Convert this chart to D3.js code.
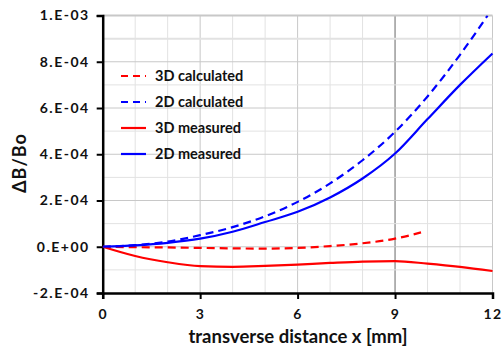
<!DOCTYPE html>
<html><head><meta charset="utf-8">
<script src="https://cdn.jsdelivr.net/npm/d3@7"></script>
<style>body{margin:0;background:#fff}svg{display:block}text{font-family:Lato,"Open Sans",sans-serif;font-weight:bold;fill:#111}</style>
</head><body><svg id="c" width="502" height="350"></svg>
<script>
// values in units of 1e-4 (ΔB/Bo)
const calc2D_x = [0,1,2,3,4,5,6,7,8,9,10,11,11.85];
const calc2D_y = [0,0.07,0.22,0.5,0.85,1.32,1.94,2.74,3.74,4.97,6.5,8.3,10.0];
const meas2D_x = [0,1,2,3,4,5,6,7,8,9,10,11,12];
const meas2D_y = [0,0.06,0.17,0.35,0.65,1.07,1.51,2.13,2.95,4.03,5.52,7.0,8.36];
const calc3D_x = [0,1,2,3,4,5,6,7,8,9,9.8];
const calc3D_y = [0,-0.02,-0.03,-0.05,-0.07,-0.08,-0.05,0.03,0.15,0.35,0.62];
const meas3D_x = [0,1,2,3,4,5,6,7,8,9,10,11,12];
const meas3D_y = [0,-0.4,-0.67,-0.84,-0.87,-0.83,-0.77,-0.7,-0.64,-0.62,-0.73,-0.87,-1.05];
const xTicks = [0,3,6,9,12];
const yTicks = [-2,0,2,4,6,8,10];
const yTickLabels = ["-2.E-04","0.E+00","2.E-04","4.E-04","6.E-04","8.E-04","1.E-03"];
const seriesNames = ["3D calculated","2D calculated","3D measured","2D measured"];

const svg = d3.select("#c");
const x = d3.scaleLinear().domain([0,12]).range([102.7,492.5]);
const y = d3.scaleLinear().domain([-2,10]).range([293,15.5]);

// grid
const g = svg.append("g");
d3.range(1,13).forEach(v=>{
  g.append("line").attr("x1",x(v)).attr("x2",x(v)).attr("y1",y(10)).attr("y2",y(-2))
   .attr("stroke", v===9 ? "#808080" : (v%3===0 ? "#c8c8c8" : "#e2e2e2")).attr("stroke-width", v===9?1.2:1);
});
d3.range(-1,11).forEach(v=>{
  g.append("line").attr("x1",x(0)).attr("x2",x(12)).attr("y1",y(v)).attr("y2",y(v))
   .attr("stroke", v%2===0 ? "#c8c8c8" : "#e2e2e2").attr("stroke-width", (v===10||v===9)?2:1);
});

// axes
const ax = svg.append("g").attr("transform",`translate(0,${y(-2)})`)
  .call(d3.axisBottom(x).tickValues(xTicks).tickSize(6).tickPadding(10).tickFormat(d3.format("d")));
const ay = svg.append("g").attr("transform",`translate(${x(0)},0)`)
  .call(d3.axisLeft(y).tickValues(yTicks).tickSize(6).tickPadding(7).tickFormat((d,i)=>yTickLabels[i]));
[ax,ay].forEach(a=>{
  a.select(".domain").attr("stroke","#000").attr("stroke-width",2.5);
  a.selectAll(".tick line").attr("stroke","#000").attr("stroke-width",2);
  a.selectAll("text").attr("font-size",14).attr("fill","#111").attr("letter-spacing","1.5px")
   .style("font-family","Lato,'Open Sans',sans-serif").style("font-weight","bold");
});

// lines
const line = d3.line().x(d=>x(d[0])).y(d=>y(d[1])).curve(d3.curveMonotoneX);
const zip = (a,b)=>a.map((v,i)=>[v,b[i]]);
const series = [
  {d:zip(calc3D_x,calc3D_y), c:"#ff0000", dash:"8,5"},
  {d:zip(calc2D_x,calc2D_y), c:"#0000ff", dash:"8,5"},
  {d:zip(meas3D_x,meas3D_y), c:"#ff0000", dash:null},
  {d:zip(meas2D_x,meas2D_y), c:"#0000ff", dash:null}
];
svg.append("clipPath").attr("id","cp").append("rect")
  .attr("x",x(0)).attr("y",y(10)).attr("width",x(12)-x(0)+2).attr("height",y(-2)-y(10));
series.forEach(s=>{
  svg.append("path").attr("d",line(s.d)).attr("fill","none").attr("stroke",s.c)
    .attr("stroke-width",2.2).attr("stroke-dasharray",s.dash).attr("clip-path","url(#cp)");
});

// legend
const ly = [76,102,128,154];
series.forEach((s,i)=>{
  svg.append("line").attr("x1",121).attr("x2",146).attr("y1",ly[i]).attr("y2",ly[i])
    .attr("stroke",s.c).attr("stroke-width",2.2).attr("stroke-dasharray",s.dash?"7,5":null);
  svg.append("text").attr("x",155).attr("y",ly[i]).attr("dy","0.35em").attr("font-size",14.5).text(seriesNames[i]);
});

// axis titles
svg.append("text").attr("x",298).attr("y",343).attr("text-anchor","middle").attr("font-size",18.5).text("transverse distance x [mm]");
svg.append("text").attr("transform","translate(26,163) rotate(-90)").attr("text-anchor","middle").attr("font-size",18).attr("letter-spacing","1px").text("ΔB/Bo");
</script></body></html>
